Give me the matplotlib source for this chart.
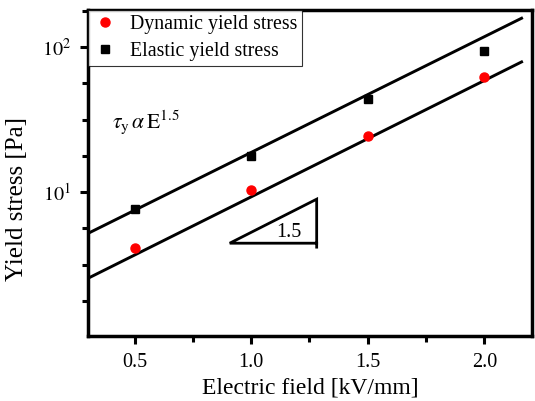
import matplotlib
matplotlib.use("Agg")
import matplotlib.pyplot as plt
from matplotlib.ticker import FixedLocator, FixedFormatter, NullFormatter

plt.rcParams['font.family'] = ['Liberation Serif', 'DejaVu Serif']
plt.rcParams['mathtext.fontset'] = 'stix'

# data
field = [0.5, 1.0, 1.5, 2.0]
dynamic_stress = [4.1, 10.3, 24.3, 62.0]
elastic_stress = [7.6, 17.7, 43.7, 93.8]

fit_x = [0.3, 2.16]
fit_elastic = [5.2, 158.0]
fit_dynamic = [2.55, 79.0]

tri_x = [1.281, 1.281, 0.908, 1.281]
tri_y = [4.18, 8.95, 4.45, 4.45]

x_ticks = [0.5, 1.0, 1.5, 2.0]
x_tick_labels = ['0.5', '1.0', '1.5', '2.0']
x_minor = [0.75, 1.25, 1.75]
y_ticks = [10, 100]
y_tick_labels = [r'$10^1$', r'$10^2$']
y_minor = [10 ** 0.25, 10 ** 0.5, 10 ** 0.75, 10 ** 1.25, 10 ** 1.5, 10 ** 1.75, 10 ** 2.25]

fig = plt.figure(figsize=(5.35, 4.01), dpi=100)
ax = fig.add_axes([0.1645, 0.162, 0.83, 0.813])
ax.set_yscale('log')

ax.plot(fit_x, fit_elastic, color='black', lw=2.1, zorder=2)
ax.plot(fit_x, fit_dynamic, color='black', lw=2.1, zorder=2)
ax.plot(tri_x, tri_y, color='black', lw=2.0, solid_joinstyle='miter', zorder=2)

ax.plot(field, dynamic_stress, 'o', color='red', ms=6.5, ls='none', label='Dynamic yield stress', zorder=3)
ax.plot(field, elastic_stress, 's', color='black', ms=5.2, ls='none', label='Elastic yield stress', zorder=3)

ax.set_xlim(0.3, 2.205)
ax.set_ylim(1.02, 180)

ax.xaxis.set_major_locator(FixedLocator(x_ticks))
ax.xaxis.set_major_formatter(FixedFormatter(x_tick_labels))
ax.xaxis.set_minor_locator(FixedLocator(x_minor))
ax.xaxis.set_minor_formatter(NullFormatter())
ax.yaxis.set_major_locator(FixedLocator(y_ticks))
ax.yaxis.set_major_formatter(FixedFormatter(y_tick_labels))
ax.yaxis.set_minor_locator(FixedLocator(y_minor))
ax.yaxis.set_minor_formatter(NullFormatter())

ax.tick_params(which='major', direction='out', length=6, width=2.2, labelsize=14.5, pad=6)
ax.tick_params(which='minor', direction='out', length=4, width=2.2)
for s in ax.spines.values():
    s.set_linewidth(2.5)

ax.set_xlabel('Electric field [kV/mm]', fontsize=17, labelpad=4)
ax.set_ylabel('Yield stress [Pa]', fontsize=18)
ax.yaxis.set_label_coords(-0.135, 0.42)

ax.text(0.055, 0.655, r'$\tau_{\rm y}\,\alpha\,{\rm E}^{1.5}$', transform=ax.transAxes,
        fontsize=15.5, ha='left', va='center')
ax.text(1.162, 5.25, '1.5', fontsize=14.5, ha='center', va='center')

leg = ax.legend(loc='upper left', bbox_to_anchor=(0.0, 1.0), borderaxespad=0.0,
                fontsize=14.3, frameon=True, fancybox=False, handlelength=1.2,
                handletextpad=0.65, borderpad=0.25, labelspacing=0.38, edgecolor='black')
leg.get_frame().set_linewidth(0.8)

fig.savefig('out.png', dpi=100)
